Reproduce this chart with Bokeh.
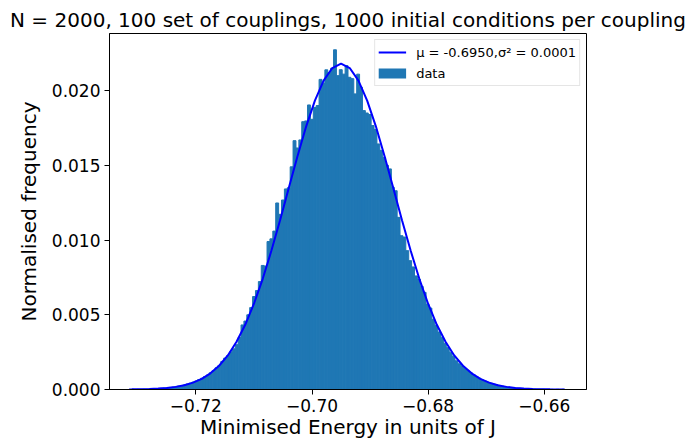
import numpy as np
from bokeh.plotting import figure
from bokeh.models import (Range1d, FixedTicker, CustomJSTickFormatter, Legend,
                          LegendItem, ColumnDataSource)
from bokeh.embed import file_html
from bokeh.resources import INLINE

# ---------------- data ----------------
title_text = "N = 2000, 100 set of couplings, 1000 initial conditions per coupling"
x_label = "Minimised Energy in units of J"
y_label = "Normalised frequency"
fit_label = "μ = -0.6950,σ² = 0.0001"
data_label = "data"

energy_min = -0.73115
energy_max = -0.65645
n_bins = 150

frequency = [
    0.00001, 0.00000, 0.00001, 0.00001, 0.00002, 0.00002, 0.00003, 0.00004, 0.00005, 0.00006,
    0.00008, 0.00010, 0.00011, 0.00014, 0.00016, 0.00019, 0.00023, 0.00026, 0.00031, 0.00037,
    0.00042, 0.00050, 0.00057, 0.00066, 0.00075, 0.00086, 0.00097, 0.00112, 0.00126, 0.00145,
    0.00160, 0.00188, 0.00210, 0.00226, 0.00252, 0.00272, 0.00300, 0.00348, 0.00432, 0.00458,
    0.00500, 0.00548, 0.00622, 0.00662, 0.00722, 0.00830, 0.00826, 0.00990, 0.01008, 0.01060,
    0.01248, 0.01172, 0.01268, 0.01342, 0.01350, 0.01490, 0.01665, 0.01616, 0.01670, 0.01792,
    0.01797, 0.01904, 0.01808, 0.01888, 0.01900, 0.02075, 0.02049, 0.02139, 0.02120, 0.02150,
    0.02273, 0.02100, 0.02140, 0.02110, 0.02167, 0.02089, 0.02080, 0.01978, 0.02110, 0.02022,
    0.01866, 0.01850, 0.01840, 0.01766, 0.01740, 0.01643, 0.01600, 0.01553, 0.01500, 0.01476,
    0.01353, 0.01330, 0.01152, 0.01029, 0.01020, 0.00929, 0.00862, 0.00820, 0.00760, 0.00739,
    0.00690, 0.00650, 0.00570, 0.00545, 0.00470, 0.00430, 0.00385, 0.00350, 0.00310, 0.00280,
    0.00250, 0.00222, 0.00192, 0.00172, 0.00158, 0.00140, 0.00125, 0.00112, 0.00098, 0.00086,
    0.00075, 0.00064, 0.00056, 0.00048, 0.00042, 0.00036, 0.00031, 0.00026, 0.00022, 0.00019,
    0.00016, 0.00013, 0.00011, 0.00009, 0.00008, 0.00006, 0.00005, 0.00004, 0.00004, 0.00003,
    0.00002, 0.00002, 0.00002, 0.00001, 0.00001, 0.00001, 0.00000, 0.00001, 0.00000, 0.00001,
]

fit_x = [
    -0.7315, -0.7310, -0.7295, -0.7280, -0.7265, -0.7250, -0.7235, -0.7220, -0.7205, -0.7190,
    -0.7175, -0.7160, -0.7145, -0.7130, -0.7115, -0.7100, -0.7085, -0.7070, -0.7055, -0.7040,
    -0.7025, -0.7010, -0.6995, -0.6980, -0.6965, -0.6950, -0.6935, -0.6920, -0.6905, -0.6890,
    -0.6875, -0.6860, -0.6845, -0.6830, -0.6815, -0.6800, -0.6785, -0.6770, -0.6755, -0.6740,
    -0.6725, -0.6710, -0.6695, -0.6680, -0.6665, -0.6650, -0.6635, -0.6620, -0.6605, -0.6590,
    -0.6575, -0.6565,
]
fit_y = [
    0.0000080, 0.0000100, 0.0000187, 0.0000341, 0.0000606, 0.000105, 0.000176, 0.000288, 0.000460, 0.000715,
    0.00108, 0.00159, 0.00228, 0.00319, 0.00433, 0.00574, 0.00739, 0.00928, 0.01133, 0.01348,
    0.01561, 0.01761, 0.01933, 0.02067, 0.02151, 0.02180, 0.02151, 0.02067, 0.01933, 0.01761,
    0.01561, 0.01348, 0.01133, 0.00928, 0.00739, 0.00574, 0.00433, 0.00319, 0.00228, 0.00159,
    0.00108, 0.000715, 0.000460, 0.000288, 0.000176, 0.000105, 0.0000606, 0.0000341, 0.0000187, 0.0000100,
    0.0000052, 0.0000033,
]

x_ticks = [-0.72, -0.70, -0.68, -0.66]
y_ticks = [0.0, 0.005, 0.010, 0.015, 0.020]

# ---------------- plot ----------------
FONT = "DejaVu Sans"

edges = np.linspace(energy_min, energy_max, n_bins + 1)
src = ColumnDataSource(dict(left=edges[:-1], right=edges[1:], top=frequency))

p = figure(width=685, height=442, output_backend="svg", toolbar_location=None,
           x_range=Range1d(-0.73488, -0.65272), y_range=Range1d(0, 0.02382),
           min_border_left=109, min_border_right=99, min_border_top=33,
           min_border_bottom=53)
p.background_fill_color = "white"
p.border_fill_color = "white"

r_hist = p.quad(left="left", right="right", top="top", bottom=0, source=src,
                fill_color="#1f77b4", line_color="#1f77b4", line_width=1)
r_fit = p.line(fit_x, fit_y, line_color="blue", line_width=2)
# legend swatch for the histogram (nothing drawn in the plot area)
r_patch = p.line(x=np.array([np.nan]), y=np.array([np.nan]), line_color="#1f77b4",
                 line_width=10, line_cap="butt")

p.title.text = title_text
p.title.align = "center"
p.title.text_font = FONT
p.title.text_font_size = "20px"
p.title.text_font_style = "normal"
p.title.text_color = "black"
p.title.standoff = 4

p.xgrid.visible = False
p.ygrid.visible = False
p.outline_line_color = "black"
p.outline_line_width = 1

for ax in (p.xaxis, p.yaxis):
    ax.axis_line_color = "black"
    ax.major_tick_line_color = "black"
    ax.major_tick_out = 5
    ax.major_tick_in = 0
    ax.minor_tick_out = 0
    ax.minor_tick_in = 0
    ax.major_label_text_font = FONT
    ax.major_label_text_font_size = "17px"
    ax.major_label_text_color = "black"
    ax.major_label_standoff = 4
    ax.axis_label_text_font = FONT
    ax.axis_label_text_font_size = "20px"
    ax.axis_label_text_font_style = "normal"
    ax.axis_label_text_color = "black"

p.xaxis.axis_label = x_label
p.yaxis.axis_label = y_label
p.xaxis.axis_label_standoff = 0
p.yaxis.axis_label_standoff = 8
p.xaxis.ticker = FixedTicker(ticks=x_ticks)
p.yaxis.ticker = FixedTicker(ticks=y_ticks)
p.xaxis.formatter = CustomJSTickFormatter(
    code="return (tick < 0 ? '\u2212' : '') + Math.abs(tick).toFixed(2);")
p.yaxis.formatter = CustomJSTickFormatter(code="return tick.toFixed(3);")

legend = Legend(items=[LegendItem(label=fit_label, renderers=[r_fit]),
                       LegendItem(label=data_label, renderers=[r_patch])],
                location="top_right")
legend.margin = 6
legend.padding = 3
legend.spacing = 3
legend.glyph_width = 28
legend.glyph_height = 18
legend.label_height = 18
legend.label_standoff = 10
legend.label_text_font = FONT
legend.label_text_font_size = "13px"
legend.label_text_color = "black"
legend.border_line_color = "#cccccc"
legend.border_line_width = 1
legend.background_fill_alpha = 0.8
p.add_layout(legend)

open("out.html", "w").write(file_html(p, INLINE))
